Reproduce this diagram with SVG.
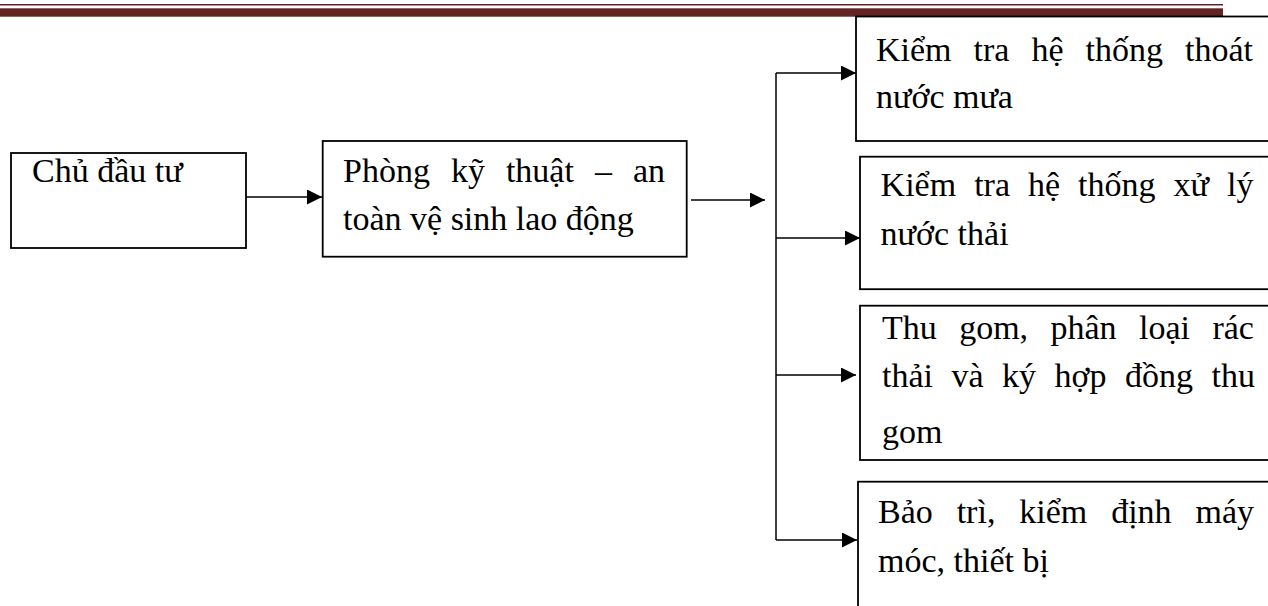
<svg xmlns="http://www.w3.org/2000/svg" width="1268" height="606" viewBox="0 0 1268 606">
<style>
.box{fill:#fff;stroke:#000;stroke-width:1.8}
.t{font-family:"Liberation Serif","Times New Roman",serif;font-size:34px;fill:#000}
.c{fill:none;stroke:#000;stroke-width:1.5}
</style>
<defs>
<marker id="ah" markerUnits="userSpaceOnUse" markerWidth="16" markerHeight="16" refX="15" refY="7.5" orient="auto">
<path d="M0,0 L15,7.5 L0,15 z" fill="#000"/>
</marker>
</defs>
<rect width="1268" height="606" fill="#fff"/>
<g id="header">
<rect x="0" y="4" width="1223" height="1.5" fill="#622423"/>
<rect x="0" y="8.3" width="1223" height="8.4" fill="#622423"/>
</g>
<g id="connectors">
<line class="c" x1="246" y1="197" x2="322" y2="197" marker-end="url(#ah)"/>
<line class="c" x1="691" y1="200" x2="765" y2="200" marker-end="url(#ah)"/>
<polyline class="c" points="776,73 776,540"/>
<line class="c" x1="776" y1="73" x2="856" y2="73" marker-end="url(#ah)"/>
<line class="c" x1="776" y1="238" x2="860" y2="238" marker-end="url(#ah)"/>
<line class="c" x1="776" y1="375" x2="856" y2="375" marker-end="url(#ah)"/>
<line class="c" x1="776" y1="540" x2="857" y2="540" marker-end="url(#ah)"/>
</g>
<g id="node-chu-dau-tu">
<rect class="box" x="11" y="153" width="235" height="95"/>
<text class="t" x="32" y="181.5">Chủ đầu tư</text>
</g>
<g id="node-phong-ky-thuat">
<rect class="box" x="322.7" y="141" width="364" height="115.7"/>
<text class="t" x="343" y="181.5" word-spacing="12.5">Phòng kỹ thuật – an</text>
<text class="t" x="343" y="230">toàn vệ sinh lao động</text>
</g>
<g id="node-thoat-nuoc-mua">
<rect class="box" x="856" y="16.5" width="430" height="124.5"/>
<text class="t" x="876" y="60.5" word-spacing="13.5">Kiểm tra hệ thống thoát</text>
<text class="t" x="876" y="108">nước mưa</text>
</g>
<g id="node-xu-ly-nuoc-thai">
<rect class="box" x="860" y="156.7" width="430" height="132.5"/>
<text class="t" x="880.6" y="196" word-spacing="9.5">Kiểm tra hệ thống xử lý</text>
<text class="t" x="880.6" y="245">nước thải</text>
</g>
<g id="node-thu-gom-rac">
<rect class="box" x="860" y="305.7" width="430" height="154.3"/>
<text class="t" x="882" y="338.5" word-spacing="13.9">Thu gom, phân loại rác</text>
<text class="t" x="882" y="387" word-spacing="10">thải và ký hợp đồng thu</text>
<text class="t" x="882" y="443">gom</text>
</g>
<g id="node-bao-tri">
<rect class="box" x="858" y="481.7" width="430" height="140"/>
<text class="t" x="878" y="523" word-spacing="15.4">Bảo trì, kiểm định máy</text>
<text class="t" x="878" y="572">móc, thiết bị</text>
</g>
</svg>
